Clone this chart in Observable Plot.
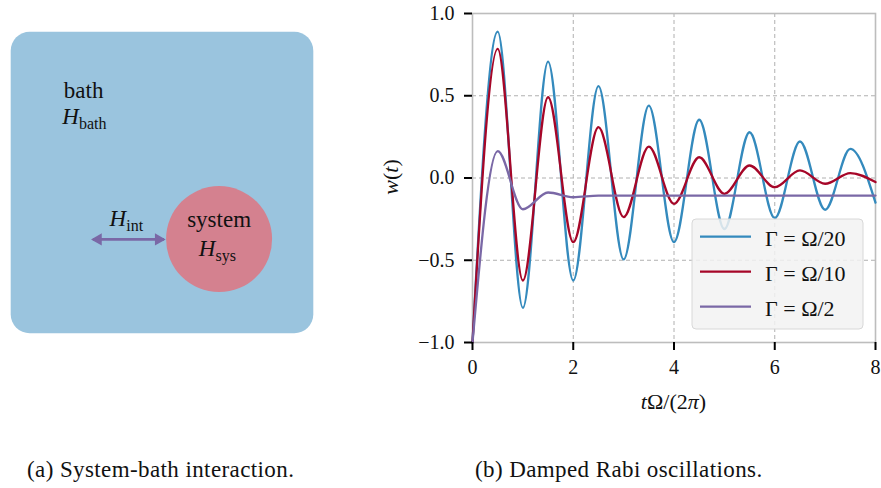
<!DOCTYPE html>
<html>
<head>
<meta charset="utf-8">
<script src="https://cdn.jsdelivr.net/npm/d3@7"></script>
<script src="https://cdn.jsdelivr.net/npm/@observablehq/plot@0.6"></script>
<style>
  body { margin: 0; background: #fff; }
  #wrap { position: relative; width: 881px; height: 488px; overflow: hidden; font-family: "Liberation Serif", serif; }
  .panel { position: absolute; top: 0; }
  .cap { position: absolute; top: 458px; font-size: 23px; line-height: 23px; letter-spacing: 0.4px; white-space: nowrap; color: #111; }
</style>
</head>
<body>
<div id="wrap">
  <div id="left" class="panel" style="left:0px"></div>
  <div id="right" class="panel" style="left:380px"></div>
  <div id="capA" class="cap" style="left:27px"></div>
  <div id="capB" class="cap" style="left:475px"></div>
</div>
<script>
// ---------- chart data (extrema every half period) ----------
const tValues  = [0, 0.5, 1, 1.5, 2, 2.5, 3, 3.5, 4, 4.5, 5, 5.5, 6, 6.5, 7, 7.5, 8];
const wGamma20 = [-1, 0.89, -0.79, 0.708, -0.623, 0.558, -0.495, 0.44, -0.39, 0.354, -0.31, 0.278, -0.244, 0.222, -0.193, 0.177, -0.15];
const wGamma10 = [-1, 0.785, -0.623, 0.491, -0.39, 0.309, -0.238, 0.191, -0.157, 0.126, -0.096, 0.076, -0.056, 0.046, -0.035, 0.03, -0.025];
const wGamma2  = [-1, 0.163, -0.19, -0.088, -0.117, -0.107, -0.107, -0.107, -0.107, -0.107, -0.107, -0.107, -0.107, -0.107, -0.107, -0.107, -0.107];
const seriesNames  = ["Γ = Ω/20", "Γ = Ω/10", "Γ = Ω/2"];
const seriesColors = ["#348ABD", "#A60628", "#7A68A6"];
const xTicks = [0, 2, 4, 6, 8];
const yTicks = [-1, -0.5, 0, 0.5, 1];
const captions = ["(a) System-bath interaction.", "(b) Damped Rabi oscillations."];

// ---------- diagram data (unit square = bath box) ----------
const bathBox      = [{x1: 0, x2: 1, y1: 0, y2: 1}];
const systemDisk   = [{x: 0.687, y: 0.686}];
const interaction  = [{x1: 0.27, x2: 0.505, y: 0.687}];
const arrowHeads   = [{x: 0.2875, y: 0.687, rot: -90}, {x: 0.4868, y: 0.687, rot: 90}];
const startLabels  = [{x: 0.174, y: 0.218, text: "bath"}];
const middleLabels = [{x: 0.687, y: 0.6466, text: "system"}];
const mathLabels   = [{x: 0.224, y: 0.305, main: "H", sub: "bath"}, {x: 0.38, y: 0.644, main: "H", sub: "int"}, {x: 0.675, y: 0.7404, main: "H", sub: "sys"}];

const FONT = "'Liberation Serif', 'Times New Roman', serif";

// ---------- left: diagram ----------
const diagram = Plot.plot({
  width: 330, height: 350,
  marginLeft: 0, marginRight: 0, marginTop: 0, marginBottom: 0,
  x: {domain: [0, 1], range: [10.7, 313.3], axis: null},
  y: {domain: [0, 1], range: [31.7, 333.3], axis: null},
  style: {fontFamily: FONT, background: "transparent", color: "#111"},
  marks: [
    Plot.rect(bathBox, {x1: "x1", x2: "x2", y1: "y1", y2: "y2", fill: "#9AC4DE", rx: 19}),
    Plot.dot(systemDisk, {x: "x", y: "y", r: 53, fill: "#D4818F", stroke: null}),
    Plot.link(interaction, {x1: "x1", x2: "x2", y1: "y", y2: "y", stroke: "#7A68A6", strokeWidth: 2.6}),
    Plot.dot(arrowHeads, {x: "x", y: "y", symbol: "triangle", rotate: "rot", r: 4.6, fill: "#7A68A6", stroke: null}),
    Plot.text(startLabels, {x: "x", y: "y", text: "text", textAnchor: "start", lineAnchor: "bottom", fontSize: 23, fill: "#111"}),
    Plot.text(middleLabels, {x: "x", y: "y", text: "text", textAnchor: "middle", lineAnchor: "bottom", fontSize: 23, fill: "#111"}),
    Plot.text(mathLabels, {x: "x", y: "y", text: "main", textAnchor: "end", lineAnchor: "bottom", fontSize: 23, fontStyle: "italic", fill: "#111"}),
    Plot.text(mathLabels, {x: "x", y: "y", text: "sub", textAnchor: "start", lineAnchor: "bottom", fontSize: 16, dy: 5, fill: "#111"})
  ]
});
document.getElementById("left").appendChild(diagram);

// ---------- right: damped Rabi oscillations ----------
const seriesValues = [wGamma20, wGamma10, wGamma2];
const rows = seriesValues.flatMap((ws, k) => tValues.map((t, i) => ({t, w: ws[i], name: seriesNames[k]})));

const chart = Plot.plot({
  width: 501, height: 420,
  marginLeft: 92, marginRight: 6, marginTop: 13, marginBottom: 78,
  x: {domain: [0, 8], axis: null},
  y: {domain: [-1, 1], axis: null},
  color: {domain: seriesNames, range: seriesColors},
  style: {fontFamily: FONT, fontSize: "20px", color: "#111", background: "white", overflow: "visible"},
  marks: [
    Plot.gridX({ticks: xTicks.slice(1, -1), stroke: "#b0b0b0", strokeOpacity: 1, strokeWidth: 1, strokeDasharray: "4,3"}),
    Plot.gridY({ticks: yTicks.slice(1, -1), stroke: "#b0b0b0", strokeOpacity: 1, strokeWidth: 1, strokeDasharray: "4,3"}),
    Plot.frame({stroke: "#bdbdbd", strokeWidth: 1.6}),
    Plot.line(rows, {x: "t", y: "w", z: "name", stroke: "name", curve: "monotone-x", strokeWidth: 2.3}),
    Plot.axisX({ticks: xTicks, tickFormat: d3.format("d"), tickSize: 8, tickPadding: 9, stroke: "#000", strokeWidth: 2, label: null}),
    Plot.axisY({ticks: yTicks, tickFormat: d3.format(".1f"), tickSize: 8, tickPadding: 10, stroke: "#000", strokeWidth: 2, label: null})
  ]
});
document.getElementById("right").appendChild(chart);

// legend (inside the plot frame, lower right)
const svg = d3.select(chart);
const lg = svg.append("g").attr("font-family", FONT).attr("text-anchor", "start");
lg.append("rect").attr("x", 312).attr("y", 219).attr("width", 171).attr("height", 110)
  .attr("rx", 4).attr("fill", "#f2f2f2").attr("fill-opacity", 0.85).attr("stroke", "#d8d8d8").attr("stroke-width", 1);
seriesNames.forEach((name, k) => {
  const yy = 236.7 + k * 35;
  lg.append("line").attr("x1", 320).attr("x2", 371).attr("y1", yy).attr("y2", yy)
    .attr("stroke", seriesColors[k]).attr("stroke-width", 2.3);
  lg.append("text").attr("x", 385).attr("y", yy + 9.5).attr("font-size", 22).attr("fill", "#111")
    .attr("text-anchor", "start").attr("xml:space", "preserve").text(name);
});

// axis labels with math italics
const xl = svg.append("text").attr("x", 293.5).attr("y", 409).attr("text-anchor", "middle")
  .attr("font-size", 22).attr("font-family", FONT).attr("fill", "#111");
xl.append("tspan").attr("font-style", "italic").text("t");
xl.append("tspan").text("Ω/(2");
xl.append("tspan").attr("font-style", "italic").text("π");
xl.append("tspan").text(")");

const yl = svg.append("text").attr("transform", "translate(18,177) rotate(-90)").attr("text-anchor", "middle")
  .attr("font-size", 22).attr("font-family", FONT).attr("fill", "#111");
yl.append("tspan").attr("font-style", "italic").text("w");
yl.append("tspan").text("(");
yl.append("tspan").attr("font-style", "italic").text("t");
yl.append("tspan").text(")");

// captions
document.getElementById("capA").textContent = captions[0];
document.getElementById("capB").textContent = captions[1];
</script>
</body>
</html>
